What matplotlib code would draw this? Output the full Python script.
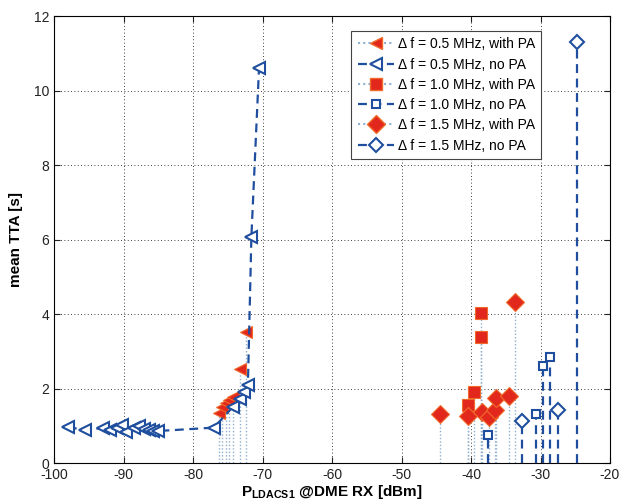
import numpy as np
import matplotlib.pyplot as plt
from matplotlib.lines import Line2D

plt.rcParams['font.family'] = ['Liberation Sans', 'DejaVu Sans']
plt.rcParams['axes.unicode_minus'] = False

# 0.5 MHz, no PA (connected dashed line)
x05_nopa = [-98, -95.5, -93, -92, -91, -90.2, -89.7, -88.5, -87.8, -87.1, -86.4, -85.7, -85.0,
            -77.0, -74.3, -73.3, -72.7, -72.1, -71.6, -70.5]
y05_nopa = [0.97, 0.88, 0.95, 0.88, 0.95, 1.02, 0.84, 0.95, 1.0, 0.92, 0.88, 0.86, 0.86,
            0.95, 1.5, 1.72, 1.9, 2.09, 6.07, 10.6]

# 0.5 MHz, with PA
x05_pa = [-76.3, -75.8, -75.3, -74.8, -74.3, -73.3, -72.4]
y05_pa = [1.35, 1.5, 1.6, 1.7, 1.78, 2.53, 3.52]

# 1.0 MHz, with PA
x10_pa = [-40.4, -39.5, -38.6, -38.6]
y10_pa = [1.56, 1.92, 3.39, 4.02]

# 1.0 MHz, no PA
x10_nopa = [-37.5, -30.7, -29.6, -28.6]
y10_nopa = [0.75, 1.31, 2.6, 2.84]

# 1.5 MHz, with PA
x15_pa = [-44.5, -40.5, -38.4, -37.4, -36.5, -36.4, -34.6, -33.6]
y15_pa = [1.31, 1.26, 1.38, 1.24, 1.43, 1.74, 1.8, 4.33]

# 1.5 MHz, no PA
x15_nopa = [-32.6, -27.5, -24.7]
y15_nopa = [1.14, 1.42, 11.3]

labels = ['\u0394 f = 0.5 MHz, with PA', '\u0394 f = 0.5 MHz, no PA',
          '\u0394 f = 1.0 MHz, with PA', '\u0394 f = 1.0 MHz, no PA',
          '\u0394 f = 1.5 MHz, with PA', '\u0394 f = 1.5 MHz, no PA']

red = '#e2281c'
red_edge = '#f06a2a'
blue = '#1f4e9e'
stem_pa = '#8fb0cf'

fig = plt.figure(figsize=(6.25, 5.04), dpi=100)
ax = fig.add_axes([0.0864, 0.0813, 0.8896, 0.8869])

# with-PA stems (dotted) and markers
for xs, ys, m, ms in [(x05_pa, y05_pa, '<', 9), (x10_pa, y10_pa, 's', 8), (x15_pa, y15_pa, 'D', 9)]:
    ax.vlines(xs, 0, ys, colors=stem_pa, linestyles=(0, (1, 1.5)), linewidth=1.0, zorder=2)
    ax.plot(xs, ys, linestyle='none', marker=m, markersize=ms, color=red,
            markeredgecolor=red_edge, markeredgewidth=0.8, zorder=3)

# no-PA stems (dashed) and open markers
for xs, ys, m, ms in [(x10_nopa, y10_nopa, 's', 6), (x15_nopa, y15_nopa, 'D', 7)]:
    ax.vlines(xs, 0, ys, colors=blue, linestyles=(0, (4, 2.5)), linewidth=1.6, zorder=4)
    ax.plot(xs, ys, linestyle='none', marker=m, markersize=ms, markerfacecolor='white',
            markeredgecolor=blue, markeredgewidth=1.5, zorder=5)

ax.plot(x05_nopa, y05_nopa, linestyle=(0, (4, 2.5)), linewidth=1.6, color=blue,
        marker='<', markersize=8, markerfacecolor='white', markeredgecolor=blue,
        markeredgewidth=1.5, zorder=5)

ax.set_xlim(-100, -20)
ax.set_ylim(0, 12)
ax.set_xticks(np.arange(-100, -19, 10))
ax.set_yticks(np.arange(0, 13, 2))
ax.tick_params(direction='in', labelsize=10, length=4, top=True, right=True, colors='#222222')
ax.grid(True, color='black', linestyle=(0, (1, 3)), linewidth=0.6)
for s in ax.spines.values():
    s.set_linewidth(0.8)

ax.set_xlabel('P$_{\\mathregular{LDACS1}}$ @DME RX [dBm]', fontsize=11, fontweight='bold', labelpad=1)
ax.set_ylabel('mean TTA [s]', fontsize=11, fontweight='bold', labelpad=8)

handles = [
    Line2D([], [], color=stem_pa, linestyle=(0, (1, 1.5)), marker='<', markersize=9,
           markerfacecolor=red, markeredgecolor=red_edge),
    Line2D([], [], color=blue, linestyle=(0, (4, 2.5)), linewidth=1.6, marker='<', markersize=8,
           markerfacecolor='white', markeredgecolor=blue, markeredgewidth=1.5),
    Line2D([], [], color=stem_pa, linestyle=(0, (1, 1.5)), marker='s', markersize=8,
           markerfacecolor=red, markeredgecolor=red_edge),
    Line2D([], [], color=blue, linestyle=(0, (4, 2.5)), linewidth=1.6, marker='s', markersize=6,
           markerfacecolor='white', markeredgecolor=blue, markeredgewidth=1.5),
    Line2D([], [], color=stem_pa, linestyle=(0, (1, 1.5)), marker='D', markersize=9,
           markerfacecolor=red, markeredgecolor=red_edge),
    Line2D([], [], color=blue, linestyle=(0, (4, 2.5)), linewidth=1.6, marker='D', markersize=7,
           markerfacecolor='white', markeredgecolor=blue, markeredgewidth=1.5),
]
leg = ax.legend(handles, labels, loc='upper right', bbox_to_anchor=(0.889, 0.982), fontsize=10,
                numpoints=1, handlelength=2.6, handletextpad=0.3, borderpad=0.45,
                labelspacing=0.45, fancybox=False, framealpha=1, edgecolor='#444444')
leg.get_frame().set_linewidth(0.8)

fig.savefig('out.png', dpi=100)
